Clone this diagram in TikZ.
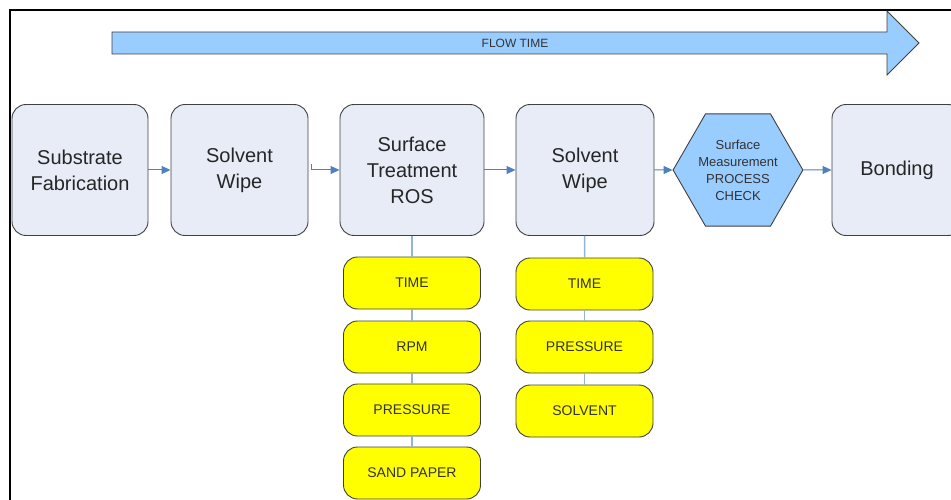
\documentclass[tikz,border=0pt]{standalone}
\usepackage{fontspec}
\setmainfont{Liberation Sans}
\usetikzlibrary{shapes.geometric,arrows.meta}
\definecolor{stepfill}{HTML}{E7ECF7}
\definecolor{boxedge}{HTML}{404040}
\definecolor{flowblue}{HTML}{99CCFF}
\definecolor{linkblue}{HTML}{4F81BD}
\definecolor{stemblue}{HTML}{95B3D7}
\definecolor{paryellow}{HTML}{FFFF00}
\tikzset{
  stepbox/.style={draw=boxedge, fill=stepfill, rounded corners=14pt, line width=0.9pt,
    minimum width=137pt, minimum height=131pt, inner sep=0pt, align=center,
    text=black!85, font=\fontsize{20}{26}\selectfont},
  hexbox/.style={draw=boxedge, fill=flowblue, line width=0.9pt, regular polygon,
    regular polygon sides=6, minimum size=127pt, inner sep=0pt, align=center,
    text=black!80, font=\fontsize{13}{17}\selectfont},
  parbox/.style={draw=boxedge, fill=paryellow, rounded corners=14pt, line width=0.9pt,
    minimum width=137pt, minimum height=52pt, inner sep=0pt,
    text=black!80, font=\fontsize{14}{16}\selectfont},
  flow/.style={linkblue, line width=1pt, -{Triangle[length=9pt,width=8pt]}},
  stem/.style={stemblue, line width=1.5pt}
}
\begin{document}
\begin{tikzpicture}[x=1pt,y=-1pt]
  \useasboundingbox (0,0) rectangle (951,500);
  \clip (0,0) rectangle (951,500);
  \draw[line width=2pt] (10,500) -- (10,10) -- (951,10);
  % flow time arrow
  \draw[boxedge, fill=flowblue, line width=0.9pt] (112,32) -- (887,32) -- (887,11) -- (919,43)
    -- (887,75) -- (887,54) -- (112,54) -- cycle;
  \node[text=black!80, font=\fontsize{12}{14}\selectfont] (flowtime) at (515,43) {FLOW TIME};
  % process steps
  \node[stepbox, minimum width=136pt] (fab) at (80,170) {Substrate\\Fabrication};
  \node[stepbox] (wipe1) at (239.5,170) {Solvent\\Wipe};
  \node[stepbox, minimum width=144pt] (ros) at (412,170) {Surface\\Treatment\\ROS};
  \node[stepbox, minimum width=138pt] (wipe2) at (585,170) {Solvent\\Wipe};
  \node[hexbox] (check) at (738,170) {Surface\\Measurement\\PROCESS\\CHECK};
  \node[stepbox, minimum width=130pt] (bond) at (897,170) {Bonding};
  \draw[flow] (fab) -- (wipe1);
  \draw[flow] ([xshift=3pt,yshift=6pt]wipe1.east) |- (ros.west);
  \draw[flow] (ros) -- (wipe2);
  \draw[flow] (wipe2) -- (check);
  \draw[flow] (check) -- (bond);
  % parameters
  \foreach \n/\y/\t in {1/283/TIME, 2/347/RPM, 3/410/PRESSURE, 4/473/SAND PAPER}
    \node[parbox] (rospar\n) at (412,\y) {\t};
  \foreach \n/\y/\t in {1/284/TIME, 2/347/PRESSURE, 3/411/SOLVENT}
    \node[parbox] (wipepar\n) at (584.5,\y) {\t};
  \foreach \a/\b in {ros/rospar1, rospar1/rospar2, rospar2/rospar3, rospar3/rospar4,
      wipe2/wipepar1, wipepar1/wipepar2, wipepar2/wipepar3}
    \draw[stem] (\a) -- (\b);
\end{tikzpicture}
\end{document}
